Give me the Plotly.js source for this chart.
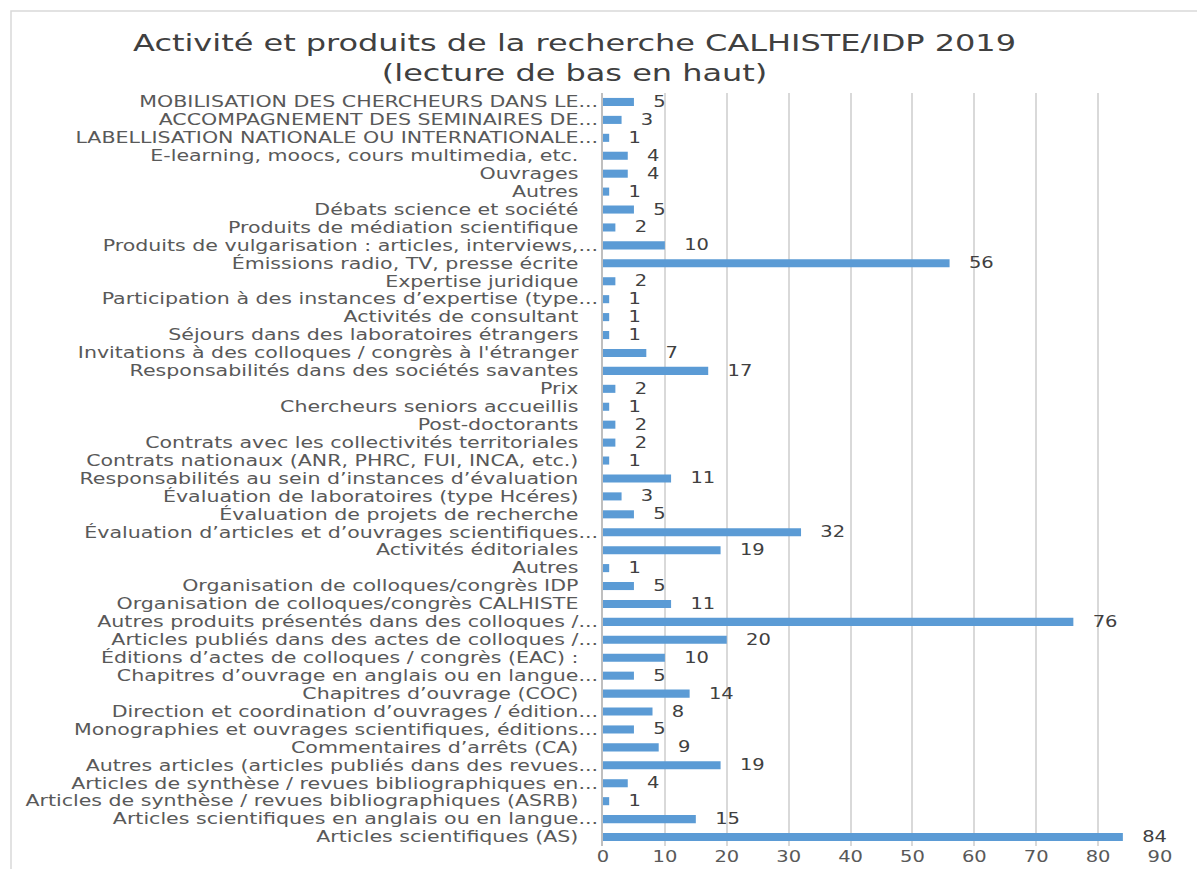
<!DOCTYPE html>
<html>
<head>
<meta charset="utf-8">
<script src="https://cdn.plot.ly/plotly-3.0.1.min.js"></script>
<style>
html,body{margin:0;padding:0;background:#fff;}
#chart{width:1197px;height:869px;}
</style>
</head>
<body>
<div id="chart"></div>
<script>
// Categories listed from bottom to top of the chart
const categories = [
  "Articles scientifiques (AS)",
  "Articles scientifiques en anglais ou en langue...",
  "Articles de synthèse / revues bibliographiques (ASRB)",
  "Articles de synthèse / revues bibliographiques en...",
  "Autres articles (articles publiés dans des revues...",
  "Commentaires d’arrêts (CA)",
  "Monographies et ouvrages scientifiques, éditions...",
  "Direction et coordination d’ouvrages / édition...",
  "Chapitres d’ouvrage (COC)",
  "Chapitres d’ouvrage en anglais ou en langue...",
  "Éditions d’actes de colloques / congrès (EAC) :",
  "Articles publiés dans des actes de colloques /...",
  "Autres produits présentés dans des colloques /...",
  "Organisation de colloques/congrès CALHISTE",
  "Organisation de colloques/congrès IDP",
  "Autres",
  "Activités éditoriales",
  "Évaluation d’articles et d’ouvrages scientifiques...",
  "Évaluation de projets de recherche",
  "Évaluation de laboratoires (type Hcéres)",
  "Responsabilités au sein d’instances d’évaluation",
  "Contrats nationaux (ANR, PHRC, FUI, INCA, etc.)",
  "Contrats avec les collectivités territoriales",
  "Post-doctorants",
  "Chercheurs seniors accueillis",
  "Prix",
  "Responsabilités dans des sociétés savantes",
  "Invitations à des colloques / congrès à l'étranger",
  "Séjours dans des laboratoires étrangers",
  "Activités de consultant",
  "Participation à des instances d’expertise (type...",
  "Expertise juridique",
  "Émissions radio, TV, presse écrite",
  "Produits de vulgarisation : articles, interviews,...",
  "Produits de médiation scientifique",
  "Débats science et société",
  "Autres",
  "Ouvrages",
  "E-learning, moocs, cours multimedia, etc.",
  "LABELLISATION NATIONALE OU INTERNATIONALE...",
  "ACCOMPAGNEMENT DES SEMINAIRES DE...",
  "MOBILISATION DES CHERCHEURS DANS LE..."
];

const values = [
  84, 15, 1, 4, 19, 9, 5, 8, 14, 5,
  10, 20, 76, 11, 5, 1, 19, 32, 5, 3,
  11, 1, 2, 2, 1, 2, 17, 7, 1, 1,
  1, 2, 56, 10, 2, 5, 1, 4, 4, 1,
  3, 5
];

const xTickVals = [0, 10, 20, 30, 40, 50, 60, 70, 80, 90];

const positions = categories.map((_, i) => i);
const tickLabels = categories.map(c => c.endsWith("...") ? c : c + "\u00A0\u00A0\u00A0");

const W = 1197, H = 869;
const M = {l: 603, r: 37, t: 93, b: 23};
const pw = W - M.l - M.r, ph = H - M.t - M.b;
// outer frame (pixel position converted to paper fractions)
const px = v => (v - M.l) / pw;
const py = v => (H - M.b - v) / ph;

const trace = {
  type: "bar",
  orientation: "h",
  x: values,
  y: positions,
  marker: {color: "#5B9BD5"},
  width: 0.45,
  text: values.map(v => "\u00A0\u00A0\u2009" + v),
  textposition: "outside",
  constraintext: "none",
  cliponaxis: false,
  textfont: {family: "DejaVu Sans", size: 15, color: "#404040"},
  hoverinfo: "none"
};

const layout = {
  width: W,
  height: H,
  margin: M,
  paper_bgcolor: "#ffffff",
  plot_bgcolor: "#ffffff",
  showlegend: false,
  title: {
    text: "Activité et produits de la recherche CALHISTE/IDP 2019<br>(lecture de bas en haut)",
    font: {family: "DejaVu Sans", size: 23, color: "#404040"},
    x: 0.48, xanchor: "center",
    y: 0.941, yanchor: "top"
  },
  xaxis: {
    range: [0, 90],
    tickvals: xTickVals,
    showgrid: true,
    gridcolor: "#d9d9d9",
    gridwidth: 2,
    zeroline: false,
    showline: false,
    ticks: "",
    tickfont: {family: "DejaVu Sans", size: 15, color: "#595959"},
    automargin: false,
    fixedrange: true
  },
  yaxis: {
    range: [-0.5, categories.length - 0.5],
    tickmode: "array",
    tickvals: positions,
    ticktext: tickLabels,
    showgrid: false,
    zeroline: false,
    showline: true,
    linecolor: "#bfbfbf",
    linewidth: 2,
    ticks: "",
    ticklen: 0,
    tickfont: {family: "DejaVu Sans", size: 15, color: "#595959"},
    automargin: false,
    fixedrange: true
  },
  shapes: [
    {type: "rect", xref: "paper", yref: "paper",
     x0: px(11), x1: px(W + 5), y0: py(H + 5), y1: py(11),
     line: {color: "#d9d9d9", width: 1.5}, layer: "below"}
  ]
};

// widen text horizontally around a pivot (the reference text is horizontally stretched)
function stretch(sel, s, mode) {
  document.querySelectorAll(sel).forEach(el => {
    const b = el.getBBox();
    let p;
    if (mode === "right") p = b.x + b.width;
    else if (mode === "left") p = b.x;
    else p = b.x + b.width / 2;
    const t = el.getAttribute("transform") || "";
    el.setAttribute("transform", t + " translate(" + (p * (1 - s)) + ",0) scale(" + s + ",1)");
  });
}

Plotly.newPlot("chart", [trace], layout, {displayModeBar: false, staticPlot: true}).then(() => {
  stretch("#chart .ytick text", 1.37, "right");
  stretch("#chart .xtick text", 1.3, "center");
  stretch("#chart .bartext", 1.3, "left");
  stretch("#chart .gtitle", 1.39, "center");
});
</script>
</body>
</html>
